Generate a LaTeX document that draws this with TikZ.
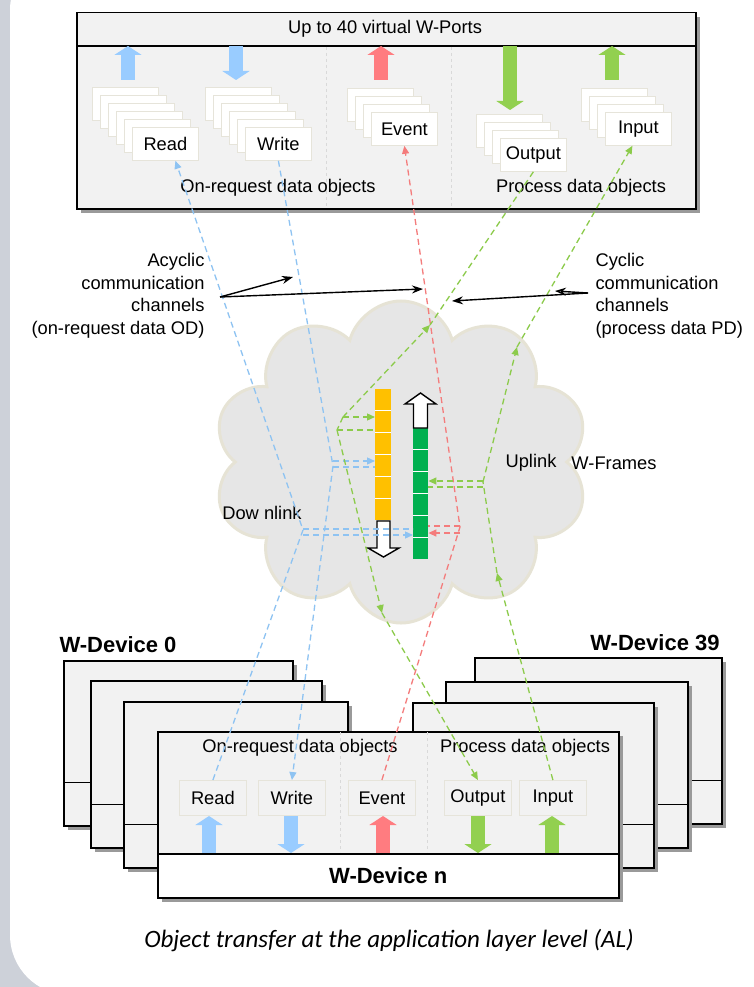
\documentclass[tikz,border=0pt]{standalone}
\usepackage{fontspec}
\setmainfont{Liberation Sans}
\newfontfamily\capfont{Carlito}
\usetikzlibrary{arrows.meta,shapes.symbols,shadows}

\definecolor{bggray}{HTML}{CDD1D9}
\definecolor{boxfill}{HTML}{F2F2F2}
\definecolor{cardedge}{HTML}{E6E4DA}
\definecolor{sepgray}{HTML}{D9D9D9}
\definecolor{shadowgray}{HTML}{9A9A9A}
\definecolor{portblue}{HTML}{99CCFF}
\definecolor{portred}{HTML}{FF7C80}
\definecolor{portgreen}{HTML}{92D050}
\definecolor{linkblue}{HTML}{8EC3F2}
\definecolor{linkred}{HTML}{F47C7C}
\definecolor{linkgreen}{HTML}{8CCB4B}
\definecolor{baryellow}{HTML}{FFC000}
\definecolor{bargreen}{HTML}{00B050}
\definecolor{cloudfill}{HTML}{E6E6E6}
\definecolor{cloudedge}{HTML}{E6E3D5}

\begin{document}
\begin{tikzpicture}[x=1pt, y=-1pt,
  font=\fontsize{18.3}{22.5}\selectfont,
  devbox/.style={draw=black, line width=1.5pt, fill=boxfill, anchor=north west, inner sep=0pt,
    drop shadow={shadow xshift=4pt, shadow yshift=-4pt, fill=shadowgray, opacity=1}},
  wcard/.style={draw=cardedge, line width=0.8pt, fill=white, anchor=north west,
    minimum width=66, minimum height=33, inner sep=0pt},
  dslot/.style={draw=cardedge, line width=0.8pt, fill=boxfill, anchor=north west,
    minimum width=67, minimum height=35, inner sep=0pt},
  portsep/.style={draw=sepgray, line width=0.8pt, dashed},
  fatarrow/.style={line width=14pt, -{Triangle[length=9pt,width=27pt]}},
  chan/.style={line width=1.3pt, dash pattern=on 6pt off 4pt},
  chantip/.style={-{Triangle[length=8pt,width=7pt]}},
  callout/.style={draw=black, line width=1.4pt, -{Stealth[length=11pt,width=8pt]}},
  hollowarrow/.style={draw=black, fill=white, line width=1.4pt, line join=miter},
  devlabel/.style={font=\fontsize{22}{26}\selectfont\bfseries}]

  \useasboundingbox (0,0) rectangle (754,987);
  \fill[bggray] (0,0) rectangle (754,987);
  \fill[white, rounded corners=60pt] (10,-50) -- (10,995) -- (800,995) -- (800,-50) -- cycle;

  % W-Ports of the master
  \node[devbox, minimum width=619, minimum height=196] (ports) at (76,12) {};
  \draw[line width=1.5pt] ([yshift=-34pt]ports.north west) -- ([yshift=-34pt]ports.north east);
  \node (title) at (385,29) {Up to 40 virtual W-Ports};
  \draw[portsep] (326,47) -- (326,207);
  \draw[portsep] (451,47) -- (451,207);

  \foreach \i in {0,...,4} \node[wcard] at (92+8*\i,87+8*\i) {};
  \node[wcard] (tRead) at (132,127) {Read};
  \foreach \i in {0,...,4} \node[wcard] at (205+8*\i,87+8*\i) {};
  \node[wcard] (tWrite) at (245,127) {Write};
  \foreach \i in {0,...,2} \node[wcard] at (347+8*\i,88+8*\i) {};
  \node[wcard] (tEvent) at (371,112) {Event};
  \foreach \i in {0,...,2} \node[wcard] at (476+8*\i,114+8*\i) {};
  \node[wcard] (tOutput) at (500,138) {Output};
  \foreach \i in {0,...,2} \node[wcard] at (581+8*\i,88+8*\i) {};
  \node[wcard] (tInput) at (605,112) {Input};

  \foreach \x/\ya/\yb/\c in {128/80/46/portblue, 236/46/80/portblue, 381/80/46/portred,
      510/46/110/portgreen, 612/80/46/portgreen}
    \draw[fatarrow, \c] (\x,\ya) -- (\x,\yb);

  \node (tOnReq) at (278,188) {On-request data objects};
  \node (tProc) at (581,188) {Process data objects};

  % radio link
  \node[cloud, cloud puffs=10, cloud ignores aspect, minimum width=376, minimum height=322,
    fill=cloudfill, draw=cloudedge, line width=3pt] (wcloud) at (401,462) {};

  \node[fill=baryellow, anchor=north west, minimum width=16, minimum height=131, inner sep=0pt] (ybar) at (375,389) {};
  \foreach \i in {1,...,5} \draw[white, line width=1pt] (375,389+21.83*\i) -- (391,389+21.83*\i);
  \node[fill=bargreen, anchor=north west, minimum width=15, minimum height=131, inner sep=0pt] (gbar) at (413,428) {};
  \foreach \i in {1,...,5} \draw[white, line width=1pt] (413,428+21.83*\i) -- (428,428+21.83*\i);
  \draw[hollowarrow] (413.5,428) -- (413.5,404) -- (405,404) -- (420.5,393) -- (436,404) -- (427.5,404) -- (427.5,428) -- cycle;
  \draw[hollowarrow] (377,521) -- (377,548) -- (368,548) -- (383.5,557) -- (399,548) -- (390,548) -- (390,521) -- cycle;

  \node (uplink) at (531,463) {Uplink};
  \node (wframes) at (614,463) {W-Frames};
  \node (downlink) at (262,513) {Dow nlink};

  % W-Devices
  \foreach \n/\x/\y/\w/\h in {dev0a/63/660/229/165, devZa/474/657/247/166,
      dev0b/90/680/231/167, devZb/445/681/242/166,
      dev0c/123/701/224/166, devZc/412/702/241/165} {
    \node[devbox, minimum width=\w, minimum height=\h] (\n) at (\x,\y) {};
    \draw[line width=1.5pt] ([yshift=44pt]\n.south west) -- ([yshift=44pt]\n.south east);
  }

  \node[devbox, minimum width=461, minimum height=166] (devN) at (157,731) {};
  \draw[portsep] (340,732) -- (340,852);
  \draw[portsep] (427,732) -- (427,852);
  \node (bOnReq) at (300,748) {On-request data objects};
  \node (bProc) at (525,748) {Process data objects};
  \node[dslot] (bRead) at (179,780) {Read};
  \node[dslot] (bWrite) at (258,780) {Write};
  \node[dslot] (bEvent) at (348,780) {Event};
  \node[dslot] (bOutput) at (444,780) {Output};
  \node[dslot] (bInput) at (519,780) {Input};
  \foreach \x/\ya/\yb/\c in {209/853/816/portblue, 291/816/853/portblue, 383/853/816/portred,
      478/816/853/portgreen, 552/853/816/portgreen}
    \draw[fatarrow, \c] (\x,\ya) -- (\x,\yb);
  \node[draw=black, line width=1.5pt, fill=white, anchor=north west, minimum width=461, minimum height=44,
    inner sep=0pt, devlabel] (devBand) at (157,853) {W-Device n};

  \node[devlabel] (dev0lbl) at (118,645) {W-Device 0};
  \node[devlabel] (devZlbl) at (655,643) {W-Device 39};

  % channels
  \coordinate (jRd) at (303,530);
  \coordinate (jRdA) at (303,529);
  \coordinate (jRdB) at (303,535);
  \coordinate (jWr) at (333,466);
  \coordinate (jWrA) at (333,461);
  \coordinate (jWrB) at (333,467);
  \coordinate (jEv) at (460,527);
  \coordinate (jEvA) at (460,526);
  \coordinate (jEvB) at (460,533);
  \coordinate (cOutA) at (430,325);
  \coordinate (jOutA) at (343,417);
  \coordinate (jOutB) at (337,430);
  \coordinate (cOutB) at (382,613);
  \coordinate (cInA) at (497,573);
  \coordinate (jIn) at (483,482);
  \coordinate (jInA) at (483,481);
  \coordinate (jInB) at (483,487);
  \coordinate (cInB) at (517,347);
  \coordinate (rdEnd) at ([xshift=10pt]tRead.south);
  \coordinate (inEnd) at ([xshift=-6pt]tInput.south);

  \draw[chan, linkblue, chantip] (bRead.north) -- (jRd) -- (rdEnd);
  \draw[chan, linkblue] (jRdA) -- (jRdA -| gbar.west);
  \draw[chan, linkblue, chantip] (jRdB) -- (jRdB -| gbar.west);
  \draw[chan, linkblue, chantip] (tWrite.south) -- (jWr) -- (bWrite.north);
  \draw[chan, linkblue, chantip] (jWrA) -- (jWrA -| ybar.west);
  \draw[chan, linkblue] (jWrB) -- (jWrB -| ybar.west);
  \draw[chan, linkred, chantip] (bEvent.north) -- (jEv) -- (tEvent.south);
  \draw[chan, linkred] (jEvA) -- (jEvA -| gbar.east);
  \draw[chan, linkred, chantip] (jEvB) -- (jEvB -| gbar.east);

  \draw[chan, linkgreen] (tOutput.south) -- (cOutA);
  \draw[chan, linkgreen, chantip] (jOutA) -- (cOutA);
  \draw[chan, linkgreen] (jOutA) -- (jOutB);
  \draw[chan, linkgreen, chantip] (jOutB) -- (cOutB);
  \draw[chan, linkgreen, chantip] (cOutB) -- (bOutput.north);
  \draw[chan, linkgreen, chantip] (jOutA) -- (jOutA -| ybar.west);
  \draw[chan, linkgreen] (jOutB) -- (jOutB -| ybar.west);

  \draw[chan, linkgreen, chantip] (bInput.north) -- (cInA);
  \draw[chan, linkgreen] (cInA) -- (jIn);
  \draw[chan, linkgreen, chantip] (jIn) -- (cInB);
  \draw[chan, linkgreen, chantip] (cInB) -- (inEnd);
  \draw[chan, linkgreen, chantip] (jInA) -- (jInA -| gbar.east);
  \draw[chan, linkgreen] (jInB) -- (jInB -| gbar.east);

  % channel callouts
  \node[align=right, anchor=east] (acyc) at (208,296) {Acyclic\\communication\\channels\\(on-request data OD)};
  \node[align=left, anchor=west] (cyc) at (592,296) {Cyclic\\communication\\channels\\(process data PD)};
  \coordinate (acTail) at (220,297);
  \coordinate (acHdA) at (293,277);
  \coordinate (acHdB) at (423,289);
  \coordinate (cyTail) at (588,293);
  \coordinate (cyHdA) at (555,291);
  \coordinate (cyHdB) at (452,301);
  \draw[callout] (acTail) -- (acHdA);
  \draw[callout] (acTail) -- (acHdB);
  \draw[callout, -{Stealth[open, length=11pt, width=8pt]}] (cyTail) -- (cyHdA);
  \draw[callout] (cyTail) -- (cyHdB);

  \node[font=\capfont\itshape\fontsize{25}{30}\selectfont] (caption) at (389,940)
    {Object transfer at the application layer level (AL)};
\end{tikzpicture}
\end{document}
